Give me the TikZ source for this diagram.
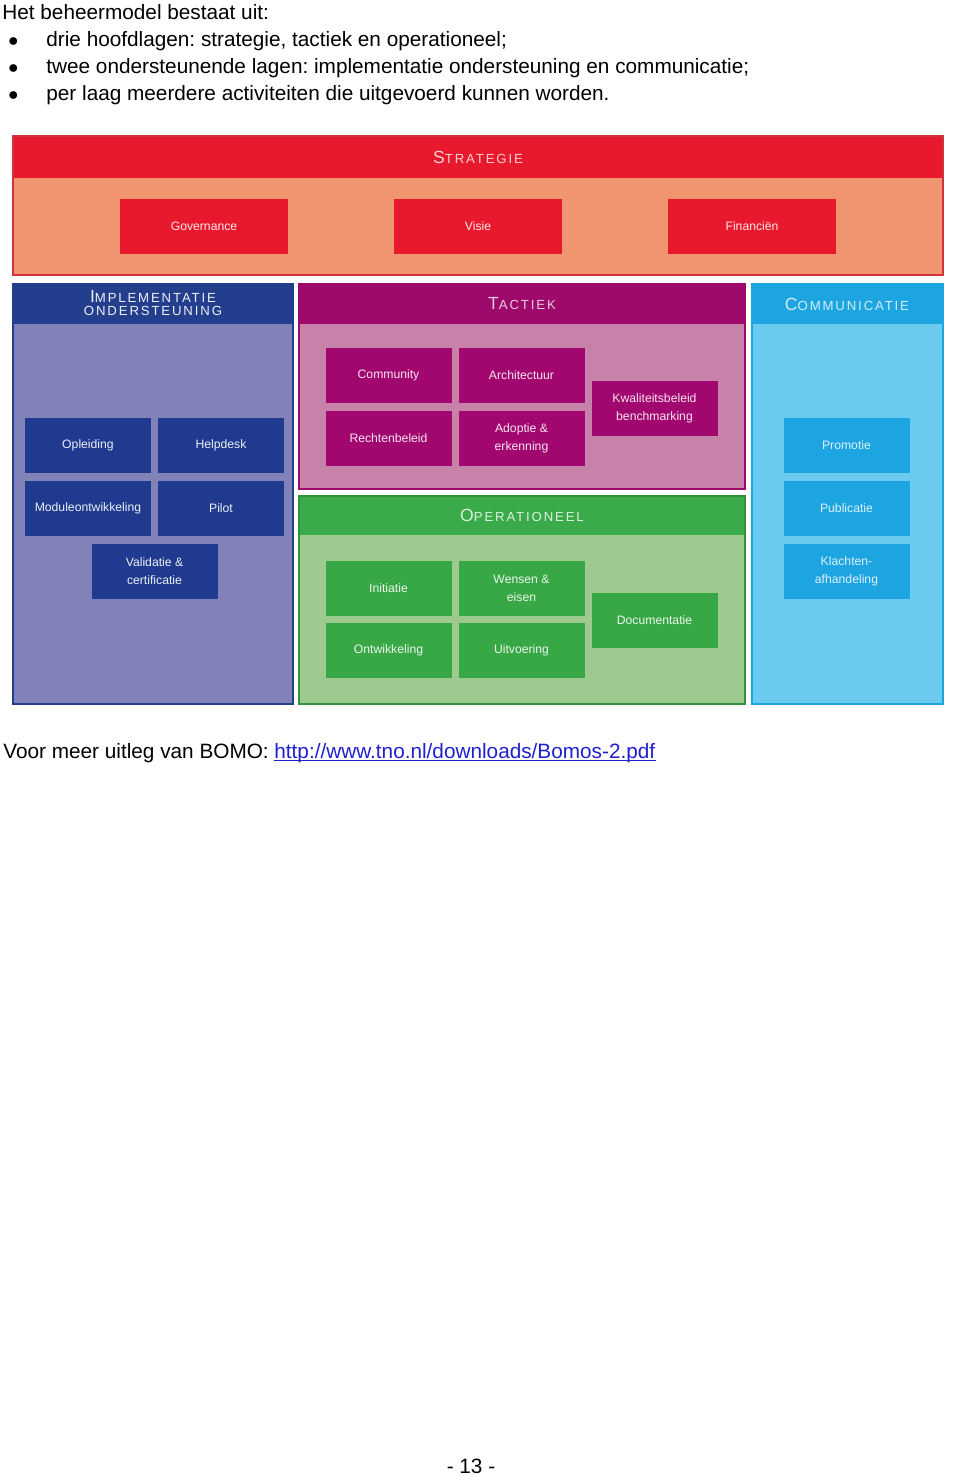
\documentclass[tikz,border=0pt]{standalone}
\usepackage{fontspec}
\setmainfont{Liberation Sans}
\usepackage{tikz}
\usetikzlibrary{positioning}

\definecolor{strkop}{HTML}{E8192C}
\definecolor{strlicht}{HTML}{F0956F}
\definecolor{strrand}{HTML}{D0343A}
\definecolor{impkop}{HTML}{233E8C}
\definecolor{implicht}{HTML}{8082B8}
\definecolor{impblok}{HTML}{1F3A8F}
\definecolor{takkop}{HTML}{9E0A6C}
\definecolor{taklicht}{HTML}{C682A8}
\definecolor{takblok}{HTML}{A2076F}
\definecolor{comkop}{HTML}{1DA5E2}
\definecolor{comlicht}{HTML}{6BCBEE}
\definecolor{opkop}{HTML}{3AAA4A}
\definecolor{oplicht}{HTML}{9DCB8F}
\definecolor{opblok}{HTML}{38A846}
\definecolor{linkblauw}{HTML}{1F1FD0}

\newcommand\kapitaal[2]{{\fontsize{8.8}{10}\selectfont #1}{\fontsize{6.6}{7}\selectfont #2}}
\frenchspacing

\begin{document}
\begin{tikzpicture}[x=0.5pt,y=-0.5pt]
		\tikzstyle{blok}=[minimum width=63pt,minimum height=27.5pt,inner sep=0pt,align=center,font=\fontsize{6.1}{9}\selectfont]
		\tikzstyle{breed}=[blok,minimum width=84pt]
		\tikzstyle{kop}=[inner sep=0pt,align=center,font=\addfontfeatures{LetterSpace=14}]
		\tikzstyle{tekst}=[anchor=base west,inner sep=0pt,font=\fontsize{10.38}{12}\selectfont]
		\useasboundingbox (0,0) rectangle (960,1477);
		%% intro text
		\node[tekst] (intro) at (2,20) {Het beheermodel bestaat uit:};
		\foreach \y/\txt [count=\i] in {47/{drie hoofdlagen: strategie, tactiek en operationeel;},
			74/{twee ondersteunende lagen: implementatie ondersteuning en communicatie;},
			101/{per laag meerdere activiteiten die uitgevoerd kunnen worden.}} {
			\node[tekst] (punt\i) at (8,\y) {$\bullet$};
			\node[tekst] (regel\i) at (46,\y) {\txt};
		}
		%% strategie
		\fill[strlicht] (13,136) rectangle (943,275);
		\fill[strkop] (13,136) rectangle (943,178);
		\draw[strrand,line width=0.8pt] (13,136) rectangle (943,275);
		\node[kop,text=white!80!strkop] (strategie) at (478,157) {\kapitaal{S}{TRATEGIE}};
		\node[breed,fill=strkop,text=white!90!strkop] (governance) at (204,226) {Governance};
		\node[breed,fill=strkop,text=white!90!strkop] (visie) at (478,226) {Visie};
		\node[breed,fill=strkop,text=white!90!strkop] (financien) at (752,226) {Financiën};
		%% implementatie ondersteuning
		\fill[implicht] (13,284) rectangle (293,704);
		\fill[impkop] (13,284) rectangle (293,324);
		\draw[impkop,line width=0.8pt] (13,284) rectangle (293,704);
		\node[kop,text=white!92!impkop] (implementatie) at (153,296.5) {\kapitaal{I}{MPLEMENTATIE}};
		\node[kop,text=white!92!impkop] (ondersteuning) at (153,310.5) {\fontsize{6.6}{7}\selectfont ONDERSTEUNING};
		\node[blok,fill=impblok,text=white!92!impblok] (opleiding) at (88,445) {Opleiding};
		\node[blok,fill=impblok,text=white!92!impblok] (helpdesk) at (221,445) {Helpdesk};
		\node[blok,fill=impblok,text=white!92!impblok] (module) at (88,508.5) {Moduleontwikkeling};
		\node[blok,fill=impblok,text=white!92!impblok] (pilot) at (221,508.5) {Pilot};
		\node[blok,fill=impblok,text=white!92!impblok] (validatie) at (154.5,571.5) {Validatie \&\\certificatie};
		%% tactiek
		\fill[taklicht] (299,284) rectangle (745,489);
		\fill[takkop] (299,284) rectangle (745,324);
		\draw[takkop,line width=0.8pt] (299,284) rectangle (745,489);
		\node[kop,text=white!78!takkop] (tactiek) at (522,304) {\kapitaal{T}{ACTIEK}};
		\node[blok,fill=takblok,text=white!90!takblok] (community) at (388.5,375.5) {Community};
		\node[blok,fill=takblok,text=white!90!takblok] (architectuur) at (521.5,375.5) {Architectuur};
		\node[blok,fill=takblok,text=white!90!takblok] (rechten) at (388.5,438.5) {Rechtenbeleid};
		\node[blok,fill=takblok,text=white!90!takblok] (adoptie) at (521.5,438.5) {Adoptie \&\\erkenning};
		\node[blok,fill=takblok,text=white!90!takblok] (kwaliteit) at (654.5,408) {Kwaliteitsbeleid\\benchmarking};
		%% operationeel
		\fill[oplicht] (299,496) rectangle (745,704);
		\fill[opkop] (299,496) rectangle (745,535);
		\draw[opkop!85!black,line width=0.8pt] (299,496) rectangle (745,704);
		\node[kop,text=white!82!opkop] (operationeel) at (522,515.5) {\kapitaal{O}{PERATIONEEL}};
		\node[blok,fill=opblok,text=white!90!opblok] (initiatie) at (388.5,588) {Initiatie};
		\node[blok,fill=opblok,text=white!90!opblok] (wensen) at (521.5,588) {Wensen \&\\eisen};
		\node[blok,fill=opblok,text=white!90!opblok] (ontwikkeling) at (388.5,650.5) {Ontwikkeling};
		\node[blok,fill=opblok,text=white!90!opblok] (uitvoering) at (521.5,650.5) {Uitvoering};
		\node[blok,fill=opblok,text=white!90!opblok] (documentatie) at (654.5,620.5) {Documentatie};
		%% communicatie
		\fill[comlicht] (752,284) rectangle (943,704);
		\fill[comkop] (752,284) rectangle (943,324);
		\draw[comkop,line width=0.8pt] (752,284) rectangle (943,704);
		\node[kop,text=white!80!comkop] (communicatie) at (847,304) {\kapitaal{C}{OMMUNICATIE}};
		\node[blok,fill=comkop,text=white!85!comkop] (promotie) at (846.5,445) {Promotie};
		\node[blok,fill=comkop,text=white!85!comkop] (publicatie) at (846.5,508.5) {Publicatie};
		\node[blok,fill=comkop,text=white!85!comkop] (klachten) at (846.5,571.5) {Klachten-\\afhandeling};
		%% link and page number
		\node[tekst] (uitleg) at (3,758) {Voor meer uitleg van BOMO:};
		\node[tekst,text=linkblauw] (link) at (274,758) {http://www.tno.nl/downloads/Bomos-2.pdf};
		\draw[linkblauw,line width=0.5pt] ([yshift=-1.2pt]link.base west) -- ([yshift=-1.2pt]link.base east);
		\node[tekst,anchor=base] (pagina) at (471,1473) {- 13 -};
	\end{tikzpicture}
\end{document}
